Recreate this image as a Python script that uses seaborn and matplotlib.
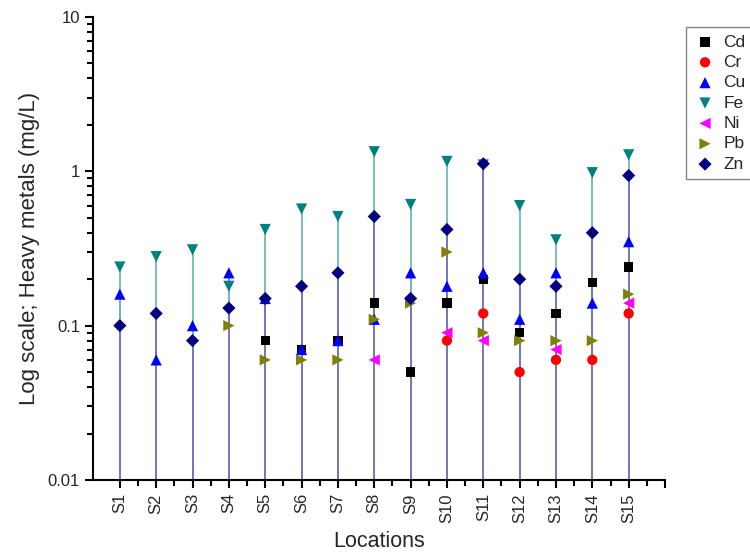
import numpy as np
import pandas as pd
import matplotlib
matplotlib.use("Agg")
import matplotlib.pyplot as plt
import matplotlib.colors as mcolors
from matplotlib.ticker import FixedLocator, LogLocator, NullFormatter
import seaborn as sn

nan = np.nan
locations = ["S%d" % i for i in range(1, 16)]

# metal concentrations (mg/L), NaN = not shown
cd = [nan, nan, nan, nan, 0.08, 0.07, 0.08, 0.14, 0.05, 0.14, 0.20, 0.09, 0.12, 0.19, 0.24]
cr = [nan, nan, nan, nan, nan, nan, nan, nan, nan, 0.08, 0.12, 0.05, 0.06, 0.06, 0.12]
cu = [0.16, 0.06, 0.10, 0.22, 0.15, 0.07, 0.08, 0.11, 0.22, 0.18, 0.22, 0.11, 0.22, 0.14, 0.35]
fe = [0.24, 0.28, 0.31, 0.18, 0.42, 0.57, 0.51, 1.34, 0.61, 1.16, 1.10, 0.60, 0.36, 0.98, 1.28]
ni = [nan, nan, nan, nan, nan, nan, nan, 0.06, nan, 0.09, 0.08, nan, 0.07, nan, 0.14]
pb = [nan, nan, nan, 0.10, 0.06, 0.06, 0.06, 0.11, 0.14, 0.30, 0.09, 0.08, 0.08, 0.08, 0.16]
zn = [0.10, 0.12, 0.08, 0.13, 0.15, 0.18, 0.22, 0.51, 0.15, 0.42, 1.12, 0.20, 0.18, 0.40, 0.94]

metals = ["Cd", "Cr", "Cu", "Fe", "Ni", "Pb", "Zn"]
series = [cd, cr, cu, fe, ni, pb, zn]
colors = ["#000000", "#ff0000", "#0000ff", "#008080", "#ff00ff", "#808000", "#000080"]
markers = ["s", "o", "^", "v", "<", ">", "D"]
sizes = [45, 55, 65, 65, 65, 65, 45]

rows = []
for m, vals in zip(metals, series):
    for i, v in enumerate(vals):
        if not np.isnan(v):
            rows.append({"pos": i + 1, "metal": m, "value": v})
df = pd.DataFrame(rows)

sn.set_style("ticks")
plt.rcParams["font.family"] = ["Liberation Sans", "DejaVu Sans"]

fig = plt.figure(figsize=(7.5, 5.58), dpi=100)
ax = fig.add_axes([0.1244, 0.1398, 0.8867 - 0.1244, 0.9695 - 0.1398])

# drop lines down to the x axis (light version of each colour)
for m, c in zip(metals, colors):
    sub = df[df.metal == m]
    light = tuple(0.55 * np.array(mcolors.to_rgb(c)) + 0.45)
    ax.vlines(sub.pos, 0.01, sub.value, colors=[light], lw=1.3, zorder=1)

for m, c, mk, s in zip(metals, colors, markers, sizes):
    sub = df[df.metal == m]
    sn.scatterplot(data=sub, x="pos", y="value", color=c, marker=mk, s=s,
                   edgecolor="none", label=m, ax=ax, zorder=3)

ax.set_yscale("log")
ax.set_ylim(0.01, 10)
ax.set_xlim(0.27, 16)
ax.yaxis.set_major_locator(FixedLocator([0.01, 0.1, 1, 10]))
ax.set_yticklabels(["0.01", "0.1", "1", "10"])
ax.yaxis.set_minor_locator(LogLocator(base=10, subs=np.arange(2, 10)))
ax.yaxis.set_minor_formatter(NullFormatter())
ax.set_xticks(range(1, 17))
ax.set_xticklabels(locations + [""], rotation=90)
ax.set_xticks(np.arange(1.5, 16, 1), minor=True)

ax.tick_params(axis="both", which="major", direction="out", length=6, width=1.5,
               labelsize=12, color="black")
ax.tick_params(axis="both", which="minor", direction="out", length=4, width=1.5,
               color="black")
for side in ["top", "right"]:
    ax.spines[side].set_visible(False)
for side in ["left", "bottom"]:
    ax.spines[side].set_linewidth(1.5)
    ax.spines[side].set_color("black")

ax.set_xlabel("Locations", fontsize=15.5, labelpad=6)
ax.set_ylabel("Log scale; Heavy metals (mg/L)", fontsize=16, labelpad=6)

handles, labels = ax.get_legend_handles_labels()
ax.get_legend().remove()
leg = fig.legend(handles, labels, loc="upper left", bbox_to_anchor=(0.903, 0.968),
                 frameon=True, fancybox=False, fontsize=12.5, handletextpad=0.4,
                 labelspacing=0.3, borderpad=0.45, handlelength=1.3)
leg.get_frame().set_edgecolor("#666666")
leg.get_frame().set_linewidth(1.0)

fig.savefig("out.png", dpi=100)
